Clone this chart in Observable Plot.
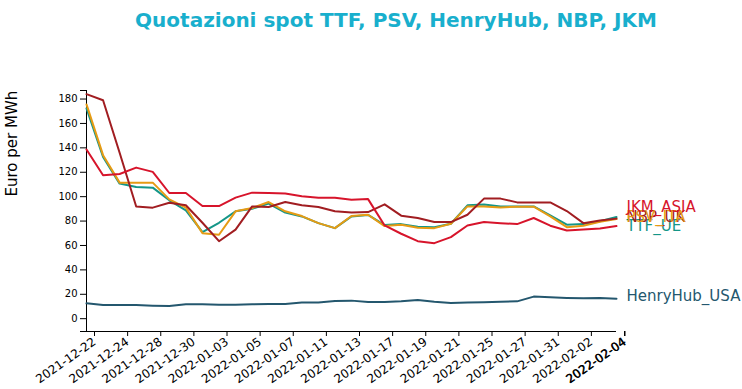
<!DOCTYPE html>
<html>
<head>
<meta charset="utf-8">
<script src="https://cdn.jsdelivr.net/npm/d3@7"></script>
<script src="https://cdn.jsdelivr.net/npm/@observablehq/plot@0.6"></script>
<style>
  body { margin: 0; background: #fff; font-family: "DejaVu Sans", sans-serif; }
  #title { width: 792px; height: 40px; text-align: center; font-weight: bold; font-size: 20px;
           line-height: 40px; color: #19afcd; white-space: nowrap; }
  #chart svg { display: block; }
</style>
</head>
<body>
<div id="title">Quotazioni spot TTF, PSV, HenryHub, NBP, JKM</div>
<div id="chart"></div>
<script>
const dates = ["2021-12-22","2021-12-23","2021-12-24","2021-12-27","2021-12-28","2021-12-29","2021-12-30","2021-12-31",
  "2022-01-03","2022-01-04","2022-01-05","2022-01-06","2022-01-07","2022-01-10","2022-01-11","2022-01-12","2022-01-13",
  "2022-01-14","2022-01-17","2022-01-18","2022-01-19","2022-01-20","2022-01-21","2022-01-24","2022-01-25","2022-01-26",
  "2022-01-27","2022-01-28","2022-01-31","2022-02-01","2022-02-02","2022-02-03","2022-02-04"];

const tickDates = ["2021-12-22","2021-12-24","2021-12-28","2021-12-30","2022-01-03","2022-01-05","2022-01-07","2022-01-11",
  "2022-01-13","2022-01-17","2022-01-19","2022-01-21","2022-01-25","2022-01-27","2022-01-31","2022-02-02","2022-02-04"];

const yTicks = [0, 20, 40, 60, 80, 100, 120, 140, 160, 180];

const seriesNames = ["HenryHub_USA", "TTF_UE", "PSV_ITA", "NBP_UK", "JKM_ASIA"];

const ttf = [172.3,132.6,110.7,108,107.4,97,88.8,71,78.6,88,90.1,94.3,86.9,83.8,78.3,74.2,83.8,
  85.0,76.7,77.5,75.3,75,77.8,92.9,93.5,92,92,92,84.7,77,77.5,79.8,83.3];
const psv = [175.6,134,111.5,111.5,111.5,97.8,91,70.1,68.8,88,90.7,95.6,88,84.1,78.3,74.2,84.1,
  85.2,75.9,77,74.5,74.2,77.8,92,92,91.2,91.8,91.8,83.8,75,76.2,79.5,81.6];
const nbp = [184,179,136,92,91,95,93,78.6,63.5,73,92,91.5,95.6,93,91.5,88,87,
  87.4,93.7,84.4,82.5,79.2,79.2,85.2,98.4,98.4,95.3,95.3,95.3,88.2,78.3,80.5,82];
const jkm = [138.6,117.5,118.6,123.8,120.3,103,103,92.3,92.3,99.2,103.3,103,102.5,100.3,99.2,99.2,97.5,
  98,76.4,69.6,63.5,61.9,66.8,76.4,79.2,78.3,77.5,82.5,76.2,72.3,73.1,74,75.9];
const henryhub = [12.6,11.2,11.2,11.2,10.7,10.4,11.8,11.8,11.5,11.5,11.8,12.1,12,13.2,13.2,14.5,14.8,
  13.7,13.7,14.2,15.3,13.9,12.9,13.2,13.4,13.9,14.2,18.1,17.5,17.0,16.7,17,16.4];

const seriesValues = {"HenryHub_USA": henryhub, "TTF_UE": ttf, "PSV_ITA": psv, "NBP_UK": nbp, "JKM_ASIA": jkm};

// styling
const colors = {"HenryHub_USA": "#24576e", "TTF_UE": "#149688", "PSV_ITA": "#e69b14", "NBP_UK": "#a11d21", "JKM_ASIA": "#d7142b"};
const labelDy = {"HenryHub_USA": -2, "TTF_UE": 9, "PSV_ITA": -2, "NBP_UK": -1.5, "JKM_ASIA": -19};
const drawOrder = ["HenryHub_USA", "TTF_UE", "PSV_ITA", "NBP_UK", "JKM_ASIA"];
const labelOrder = ["HenryHub_USA", "TTF_UE", "NBP_UK", "PSV_ITA", "JKM_ASIA"];

// categorical dates placed at evenly spaced positions (index along the trading days)
const rows = seriesNames.flatMap(s => dates.map((d, i) => ({series: s, date: d, idx: i, value: seriesValues[s][i]})));
const lastIdx = dates.length - 1;
const lastRow = s => rows.filter(r => r.series === s && r.idx === lastIdx);
const tickIdx = tickDates.map(d => dates.indexOf(d));

const yDomain = [-10.5, 187];

const chart = Plot.plot({
  width: 742,
  height: 349,
  marginTop: 50,
  marginBottom: 58,
  marginLeft: 86,
  marginRight: 126,
  style: {fontFamily: "DejaVu Sans", fontSize: "10px", background: "#fff", color: "#000"},
  x: {type: "linear", domain: [0, lastIdx], axis: null},
  y: {domain: yDomain, axis: null},
  marks: [
    Plot.ruleX([0], {stroke: "#000", strokeWidth: 1}),
    Plot.ruleY([yDomain[0]], {stroke: "#000", strokeWidth: 1}),
    Plot.axisY({ticks: yTicks, tickSize: 6, tickPadding: 3, fontSize: 10, label: null, stroke: "#000"}),
    Plot.axisY({ticks: yDomain, tickSize: 6, tickFormat: () => "", label: null, stroke: "#000"}),
    Plot.axisX({ticks: tickIdx, tickFormat: i => dates[i], tickSize: 5, tickPadding: 4, tickRotate: -35, dx: 8,
      fontSize: 12, label: null, stroke: "#000"}),
    Plot.axisX({ticks: [lastIdx], tickFormat: i => dates[i], tickSize: 5, tickPadding: 4, tickRotate: -35, dx: 8.5,
      fontSize: 12, label: null, stroke: "#000"}),
    ...drawOrder.map(s => Plot.line(rows.filter(r => r.series === s), {x: "idx", y: "value", stroke: colors[s], strokeWidth: 2})),
    ...labelOrder.map(s => Plot.text(lastRow(s), {x: "idx", y: "value", text: "series", fill: colors[s],
        textAnchor: "start", dx: 10, dy: labelDy[s], fontSize: 15})),
    Plot.text(["Euro per MWh"], {frameAnchor: "left", rotate: -90, dx: -74, dy: -14.5, fontSize: 15, fill: "#000"})
  ]
});
document.getElementById("chart").appendChild(chart);
</script>
</body>
</html>
